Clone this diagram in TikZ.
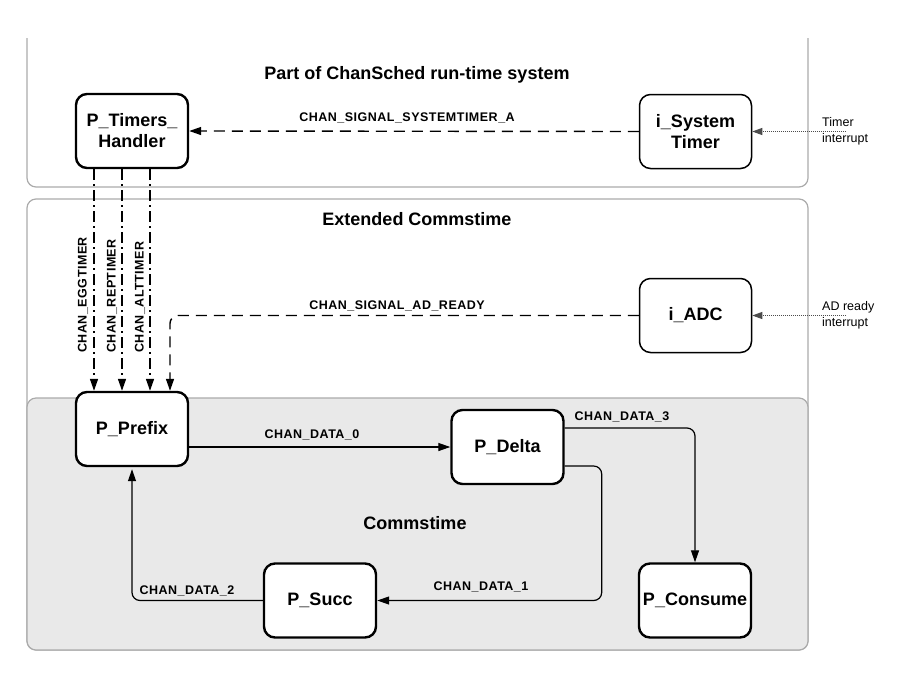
\documentclass[tikz,border=0pt]{standalone}
\usepackage{fontspec}
\setmainfont{Liberation Sans}
\newfontfamily\chanfont[LetterSpace=4]{Liberation Sans}
\usetikzlibrary{arrows.meta}
\definecolor{boxgray}{HTML}{E9E9E9}
\definecolor{edgegray}{HTML}{ABABAB}
\tikzset{
  pbox/.style={draw=black, line width=2.4pt, fill=white, rounded corners=11pt,
    minimum width=112pt, minimum height=74pt, inner sep=2pt, align=center,
    font=\bfseries\fontsize{18}{21}\selectfont},
  ibox/.style={pbox, line width=1.5pt},
  title/.style={font=\bfseries\fontsize{18}{21}\selectfont},
  chan/.style={font=\chanfont\bfseries\fontsize{12.5}{14}\selectfont, inner sep=0pt},
  intlab/.style={font=\fontsize{12.5}{16}\selectfont, align=left, anchor=west, inner sep=0pt},
  tip/.style={-{Triangle[length=12pt,width=8pt]}},
  solidc/.style={tip, line width=1.2pt, rounded corners=8pt},
  dashc/.style={tip, line width=1.4pt, dash pattern=on 11pt off 7pt, rounded corners=8pt},
  dashdotc/.style={tip, line width=1.4pt, dash pattern=on 11pt off 4pt on 2pt off 4pt},
  dotc/.style={-{Triangle[length=10pt,width=7pt]}, line width=0.9pt, dash pattern=on 1pt off 1pt, black!70},
  container/.style={draw=edgegray, line width=1.2pt, rounded corners=9pt}
}
\begin{document}
\begin{tikzpicture}[x=1pt,y=-1pt]
\useasboundingbox (0,0) rectangle (901,694);
% containers
\draw[container] (27,38) -- (27,187) -- (808,187) -- (808,38);
\draw[container] (27,199) rectangle (808,650);
\draw[container, fill=boxgray] (27,398) rectangle (808,650);
% titles
\node[title] (t1) at (417,75) {Part of ChanSched run-time system};
\node[title] (t2) at (417,219) {Extended Commstime};
\node[title] (t3) at (415,523) {Commstime};
% nodes
\node[pbox] (pth) at (132,131) {P\_Timers\_\\Handler};
\node[ibox] (ist) at (695.5,131.5) {i\_System\\Timer};
\node[ibox] (adc) at (695.5,315.5) {i\_ADC};
\node[pbox] (pp) at (132,429) {P\_Prefix};
\node[pbox] (pd) at (507.5,447) {P\_Delta};
\node[pbox] (ps) at (320,600.5) {P\_Succ};
\node[pbox] (pc) at (695,600.5) {P\_Consume};
% interrupt sources
\coordinate (tint) at (846,131.5);
\coordinate (aint) at (846,315.5);
\draw[dotc] (tint) -- (ist.east);
\draw[dotc] (aint) -- (adc.east);
\node[intlab] (tl) at (822,131) {Timer\\interrupt};
\node[intlab] (al) at (822,315) {AD ready\\interrupt};
% signals
\draw[dashc] (ist.west) -- (pth.east);
\node[chan] (l1) at (407,118) {CHAN\_SIGNAL\_SYSTEMTIMER\_A};
\draw[dashc] (adc.west) -| ([xshift=38pt]pp.north);
\node[chan] (l2) at (397,306) {CHAN\_SIGNAL\_AD\_READY};
\draw[dashdotc] ([xshift=-38pt]pth.south) -- ([xshift=-38pt]pp.north);
\draw[dashdotc] ([xshift=-10pt]pth.south) -- ([xshift=-10pt]pp.north);
\draw[dashdotc] ([xshift=18pt]pth.south) -- ([xshift=18pt]pp.north);
\node[chan, rotate=90, anchor=west] (e1) at (83,353) {CHAN\_EGGTIMER};
\node[chan, rotate=90, anchor=west] (e2) at (112,353) {CHAN\_REPTIMER};
\node[chan, rotate=90, anchor=west] (e3) at (140,353) {CHAN\_ALTTIMER};
% data channels
\draw[solidc] (pp.east |- pd.west) -- (pd.west);
\node[chan] (d0) at (312,435) {CHAN\_DATA\_0};
\draw[solidc] ([yshift=19pt]pd.east) -| (pc.north);
\node[chan] (d3) at (622,417) {CHAN\_DATA\_3};
\draw[solidc] ([yshift=-19pt]pd.east) -- ++(37,0) |- (ps.east);
\node[chan] (d1) at (481,587) {CHAN\_DATA\_1};
\draw[solidc, shorten >=2pt] (ps.west) -| (pp.south);
\node[chan] (d2) at (187,591) {CHAN\_DATA\_2};
\end{tikzpicture}
\end{document}
